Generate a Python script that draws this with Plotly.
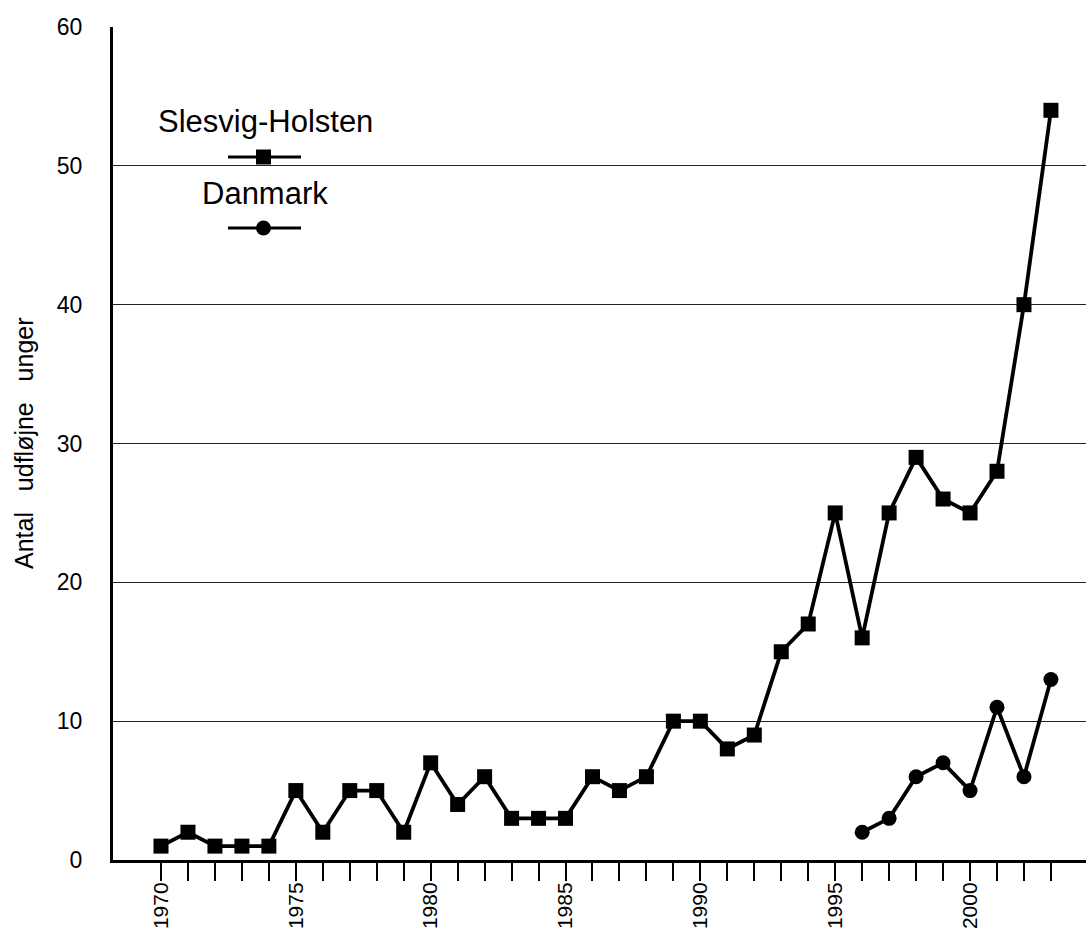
import plotly.graph_objects as go

years_sh = list(range(1970, 2004))
slesvig_holsten = [1, 2, 1, 1, 1, 5, 2, 5, 5, 2, 7, 4, 6, 3, 3, 3, 6, 5, 6, 10,
                   10, 8, 9, 15, 17, 25, 16, 25, 29, 26, 25, 28, 40, 54]
years_dk = list(range(1996, 2004))
danmark = [2, 3, 6, 7, 5, 11, 6, 13]

tick_years = list(range(1970, 2004))
tick_text = [str(y) if y % 5 == 0 else "" for y in tick_years]
y_ticks = [0, 10, 20, 30, 40, 50, 60]

FONT = "Liberation Sans, Arial, sans-serif"
W, H = 1086, 940
L, R, T, B = 113, 0, 27, 80

fig = go.Figure()
fig.add_trace(go.Scatter(
    x=years_sh, y=slesvig_holsten, mode="lines+markers", name="Slesvig-Holsten",
    line=dict(color="black", width=3.8),
    marker=dict(symbol="square", size=15, color="black"),
    showlegend=False, cliponaxis=False))
fig.add_trace(go.Scatter(
    x=years_dk, y=danmark, mode="lines+markers", name="Danmark",
    line=dict(color="black", width=3.8),
    marker=dict(symbol="circle", size=15, color="black"),
    showlegend=False, cliponaxis=False))

pw, ph = W - L - R, H - T - B
def px(x):
    return (x - L) / pw
def py(y):
    return 1 - (y - T) / ph

shapes = []
# legend keys
for yk, sym in [(157, "square"), (228, "circle")]:
    shapes.append(dict(type="line", xref="paper", yref="paper",
                       x0=px(228), x1=px(301), y0=py(yk), y1=py(yk),
                       line=dict(color="black", width=3)))
    shapes.append(dict(type="rect" if sym == "square" else "circle",
                       xref="paper", yref="paper",
                       x0=px(256), x1=px(271), y0=py(yk - 7.5), y1=py(yk + 7.5),
                       fillcolor="black", line=dict(width=0)))

annotations = [
    dict(text="Slesvig-Holsten", xref="paper", yref="paper", x=px(265), y=py(122),
         showarrow=False, font=dict(family=FONT, size=31, color="black"),
         xanchor="center", yanchor="middle"),
    dict(text="Danmark", xref="paper", yref="paper", x=px(265), y=py(193),
         showarrow=False, font=dict(family=FONT, size=31, color="black"),
         xanchor="center", yanchor="middle"),
    dict(text="Antal\u00a0\u00a0\u00a0udfløjne\u00a0\u00a0\u00a0unger", xref="paper", yref="paper",
         x=px(24), y=py(443), textangle=-90, showarrow=False,
         font=dict(family=FONT, size=25, color="black"),
         xanchor="center", yanchor="middle"),
]

fig.update_layout(
    width=W, height=H,
    margin=dict(l=L, r=R, t=T, b=B),
    paper_bgcolor="white", plot_bgcolor="white",
    shapes=shapes, annotations=annotations,
    xaxis=dict(range=[1968.22, 2004.30], tickmode="array", tickvals=tick_years,
               ticktext=tick_text, tickangle=-90, ticks="outside", ticklen=18,
               tickwidth=1.5, tickcolor="black", showgrid=False, zeroline=False,
               showline=True, linecolor="black", linewidth=3,
               ticklabelstandoff=-7,
               tickfont=dict(family=FONT, size=21, color="black")),
    yaxis=dict(range=[0, 60], tickmode="array", tickvals=y_ticks,
               showgrid=True, gridcolor="#222222", gridwidth=1, zeroline=False,
               showline=True, linecolor="black", linewidth=3,
               ticks="", ticklabelstandoff=23,
               tickfont=dict(family=FONT, size=23, color="black")),
    font=dict(family=FONT, color="black"),
)

fig.write_html("out.html", config={"displayModeBar": False},
               post_script="document.body.style.margin='0';document.body.style.overflow='hidden';")
